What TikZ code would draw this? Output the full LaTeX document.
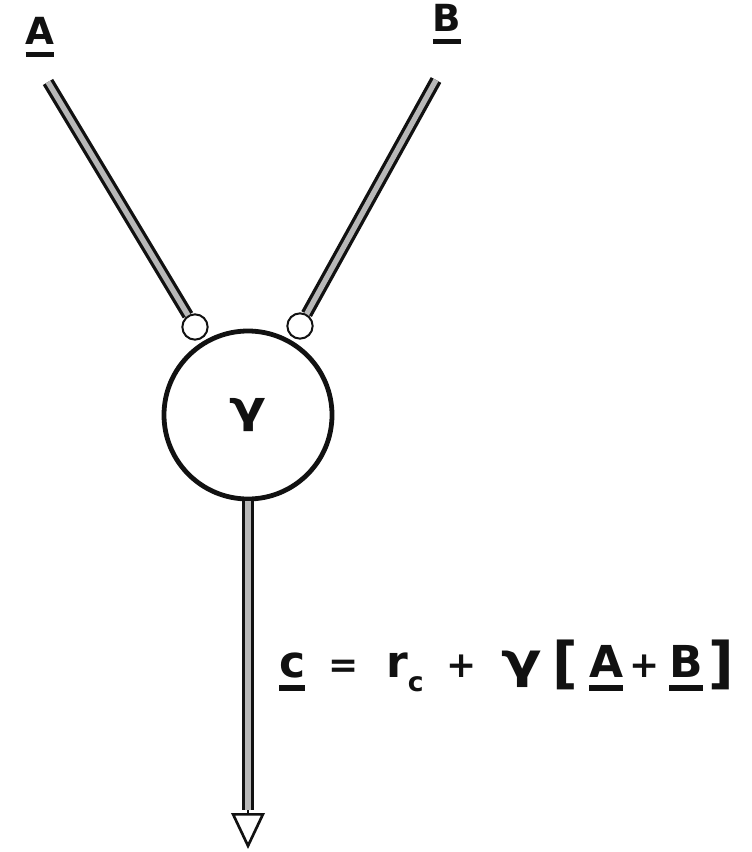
\documentclass[tikz,border=0pt]{standalone}
\usepackage{fontspec}
\usepackage{graphicx}
\setmainfont{DejaVu Sans}
\usetikzlibrary{arrows.meta}
\definecolor{ink}{HTML}{111111}
\definecolor{rodfill}{HTML}{B8B8B8}
\newcommand{\ubar}[1]{\setbox0\hbox{#1}\leavevmode\rlap{\rule[-0.32em]{\wd0}{0.13em}}\box0\relax}
\newcommand{\op}[1]{{\fontsize{27}{27}\selectfont #1}}
\newcommand{\gam}{\scalebox{1.35}[1.1]{γ}}

\begin{document}
\begin{tikzpicture}[x=0.75pt, y=-0.75pt, ink,
  rod/.style={line width=2.5pt, double=rodfill, double distance=4pt},
  knob/.style={circle, draw, line width=1.5pt, fill=white, minimum size=19pt, inner sep=0pt},
  mixer/.style={circle, draw, line width=3.6pt, minimum size=126pt, inner sep=0pt},
  sym/.style={font=\fontsize{28}{30}\selectfont\bfseries},
  eqn/.style={font=\fontsize{33}{36}\selectfont\bfseries, inner sep=0pt}]

\useasboundingbox (0,0) rectangle (751,852);

% inputs
\node[sym, anchor=base] (labA) at (40,45) {\ubar{A}};
\node[sym, anchor=base] (labB) at (447,32) {\ubar{B}};
\coordinate (startA) at (48,82);
\coordinate (startB) at (436,80);

% mixing node
\node[mixer] (gam) at (248,415) {\fontsize{30}{30}\selectfont\bfseries\gam};
\node[knob] (knobA) at (195,327) {};
\node[knob] (knobB) at (300,326) {};
\draw[rod] (startA) -- (knobA);
\draw[rod] (startB) -- (knobB);

% output
\coordinate (base) at (248,810);
\coordinate (tip) at (248,849);
\draw[rod] (gam) -- (base);
\draw[line width=2pt, -{Triangle[open, fill=white, length=27pt, width=25pt]}] (base) -- (tip);

% relation
\node[eqn, anchor=base west] (eq) at (279,677)
  {\ubar{c}\hspace{17pt}\op{=}\hspace{21pt}r\raisebox{-0.32em}{\fontsize{20}{20}\selectfont c}\hspace{17pt}\op{+}\hspace{19pt}\gam\hspace{8pt}\raisebox{-0.12em}{\fontsize{42}{42}\selectfont[}\hspace{8pt}\ubar{A}\hspace{5pt}\op{+}\hspace{7pt}\ubar{B}\hspace{4pt}\raisebox{-0.12em}{\fontsize{42}{42}\selectfont]}};

\end{tikzpicture}
\end{document}
